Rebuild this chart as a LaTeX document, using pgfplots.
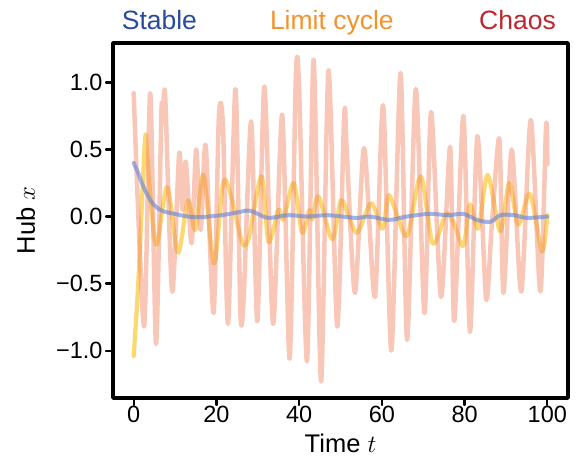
\documentclass[border=0pt]{standalone}
\usepackage{fontspec}
\setmainfont{Liberation Sans}
\usepackage{pgfplots}
\pgfplotsset{compat=1.18}

\definecolor{stabT}{RGB}{42,74,158}
\definecolor{limT}{RGB}{245,146,42}
\definecolor{chaT}{RGB}{192,38,48}
\definecolor{stabL}{RGB}{95,132,220}
\definecolor{limL}{RGB}{252,214,105}
\definecolor{chaL}{RGB}{242,135,105}

\begin{document}
\begin{tikzpicture}
\begin{axis}[
  at={(0,0)}, anchor=south west,
  width=455bp, height=355bp, scale only axis,
  clip mode=individual,
  xmin=-5, xmax=105, ymin=-1.353, ymax=1.294,
  xtick={0,20,40,60,80,100},
  xticklabels={0,20,40,60,80,100},
  ytick={-1,-0.5,0,0.5,1},
  yticklabels={−1.0,−0.5,0.0,0.5,1.0},
  xtick pos=left, ytick pos=left,
  tick align=outside,
  major tick length=7bp,
  tick style={line width=2.2bp, black},
  axis line style={line width=3.5bp},
  tick label style={font=\fontsize{23.5bp}{28bp}\selectfont},
  xticklabel style={yshift=2bp},
  label style={font=\fontsize{25.5bp}{30bp}\selectfont},
  xlabel={Time $t$},
  ylabel={Hub $x$},
  xlabel style={yshift=-4bp},
  ylabel style={yshift=14bp},
  line join=round, line cap=round,
]
% limit cycle
\addplot[limL, line width=4.2bp, opacity=0.95, smooth, tension=0.5] coordinates {
 (0,-1.04) (1.1,-0.5) (2.7,0.55) (3.2,0.5) (4.3,0.05) (5.6,-0.21) (8.1,0.22)
 (10.7,-0.27) (13.1,0.12) (14.9,-0.1) (16.9,0.31) (19.4,-0.35) (21.6,0.25)
 (23.4,0.17) (26.2,-0.19) (27.8,-0.16) (30.9,0.3) (32.6,-0.19) (35.0,0.05)
 (36.2,-0.02) (38.7,0.25) (40.7,-0.12) (42.5,0.05) (43.2,-0.02) (44.7,0.15)
 (48.0,-0.17) (50.1,0.12) (52.0,0.0) (54.1,-0.12) (57.4,0.1) (60.2,-0.09)
 (61.6,0.16) (63.8,0.0) (66.2,-0.14) (69.4,0.3) (72.3,-0.2) (75.5,0.02)
 (77.4,-0.05) (79.7,-0.22) (81.3,0.09) (83.3,-0.09) (85.6,0.31) (88.6,-0.11)
 (90.8,0.25) (93.0,-0.06) (95.8,0.17) (98.7,-0.26) (100,0.01)
};
% chaos
\addplot[chaL, line width=4.5bp, opacity=0.47, smooth, tension=0.45] coordinates {
 (0,0.92) (2.5,-0.82) (4.0,0.92) (5.4,-0.95) (6.7,0.78) (7.0,0.7) (7.6,0.91)
 (9.3,-0.56) (11.0,0.47) (11.8,0.05) (12.6,0.41) (14.0,-0.2) (15.1,0.5)
 (16.2,-0.1) (17.4,0.53) (19.3,-0.72) (20.6,0.75) (21.6,0.66) (22.8,-0.8)
 (24.6,0.95) (25.8,-0.72) (26.6,-0.6) (28.4,0.71) (29.9,-0.78) (31.6,0.97)
 (33.7,-0.8) (35.9,0.76) (37.7,-1.06) (39.2,1.04) (40.0,0.95) (41.9,-1.08)
 (43.5,1.17) (45.3,-1.23) (47.1,1.09) (49.2,-0.82) (50.9,0.76) (51.5,0.5)
 (53.5,-0.57) (55.7,0.51) (58.3,-0.6) (60.3,0.83) (62.3,-1.0) (64.5,1.07)
 (66.1,-0.92) (68.2,0.95) (70.3,-0.72) (71.9,0.78) (74.3,-0.6) (76.5,0.52)
 (77.5,-0.78) (79.7,0.75) (81.3,-0.86) (83.1,0.6) (85.2,-0.61) (86.5,-0.1)
 (88.4,0.58) (89.4,-0.57) (91.4,0.5) (93.7,-0.56) (96.0,0.72) (98.3,-0.56)
 (99.7,0.68) (100,0.39)
};
% stable
\addplot[stabL, line width=4bp, opacity=0.6, smooth] coordinates {
 (0,0.40) (1,0.33) (2,0.25) (3,0.18) (4.3,0.11) (5.5,0.07) (7.1,0.04)
 (9.9,0.02) (13.1,0.0) (16,-0.005) (18,0.0) (21.2,0.01) (25,0.03)
 (27.8,0.045) (30,0.02) (32.6,-0.01) (37.5,0.01) (42,0.0) (47,0.01)
 (53.7,-0.01) (57,0.0) (61.8,-0.025) (66,0.0) (71.5,0.02) (76,0.01)
 (79.7,0.02) (83,-0.025) (86.2,-0.04) (88.6,0.01) (92,0.01) (95,-0.01) (100,0.0)
};
\node[anchor=base, text=stabT, font=\fontsize{26.5bp}{31bp}\selectfont, yshift=13bp] at (rel axis cs:0.102,1) {Stable};
\node[anchor=base, text=limT, font=\fontsize{26.5bp}{31bp}\selectfont, yshift=13bp] at (rel axis cs:0.481,1) {Limit cycle};
\node[anchor=base, text=chaT, font=\fontsize{26.5bp}{31bp}\selectfont, yshift=13bp] at (rel axis cs:0.889,1) {Chaos};
\end{axis}
\pgfresetboundingbox
\path[use as bounding box] (-113bp,-72bp) rectangle (464bp,398bp);
\end{tikzpicture}
\end{document}
